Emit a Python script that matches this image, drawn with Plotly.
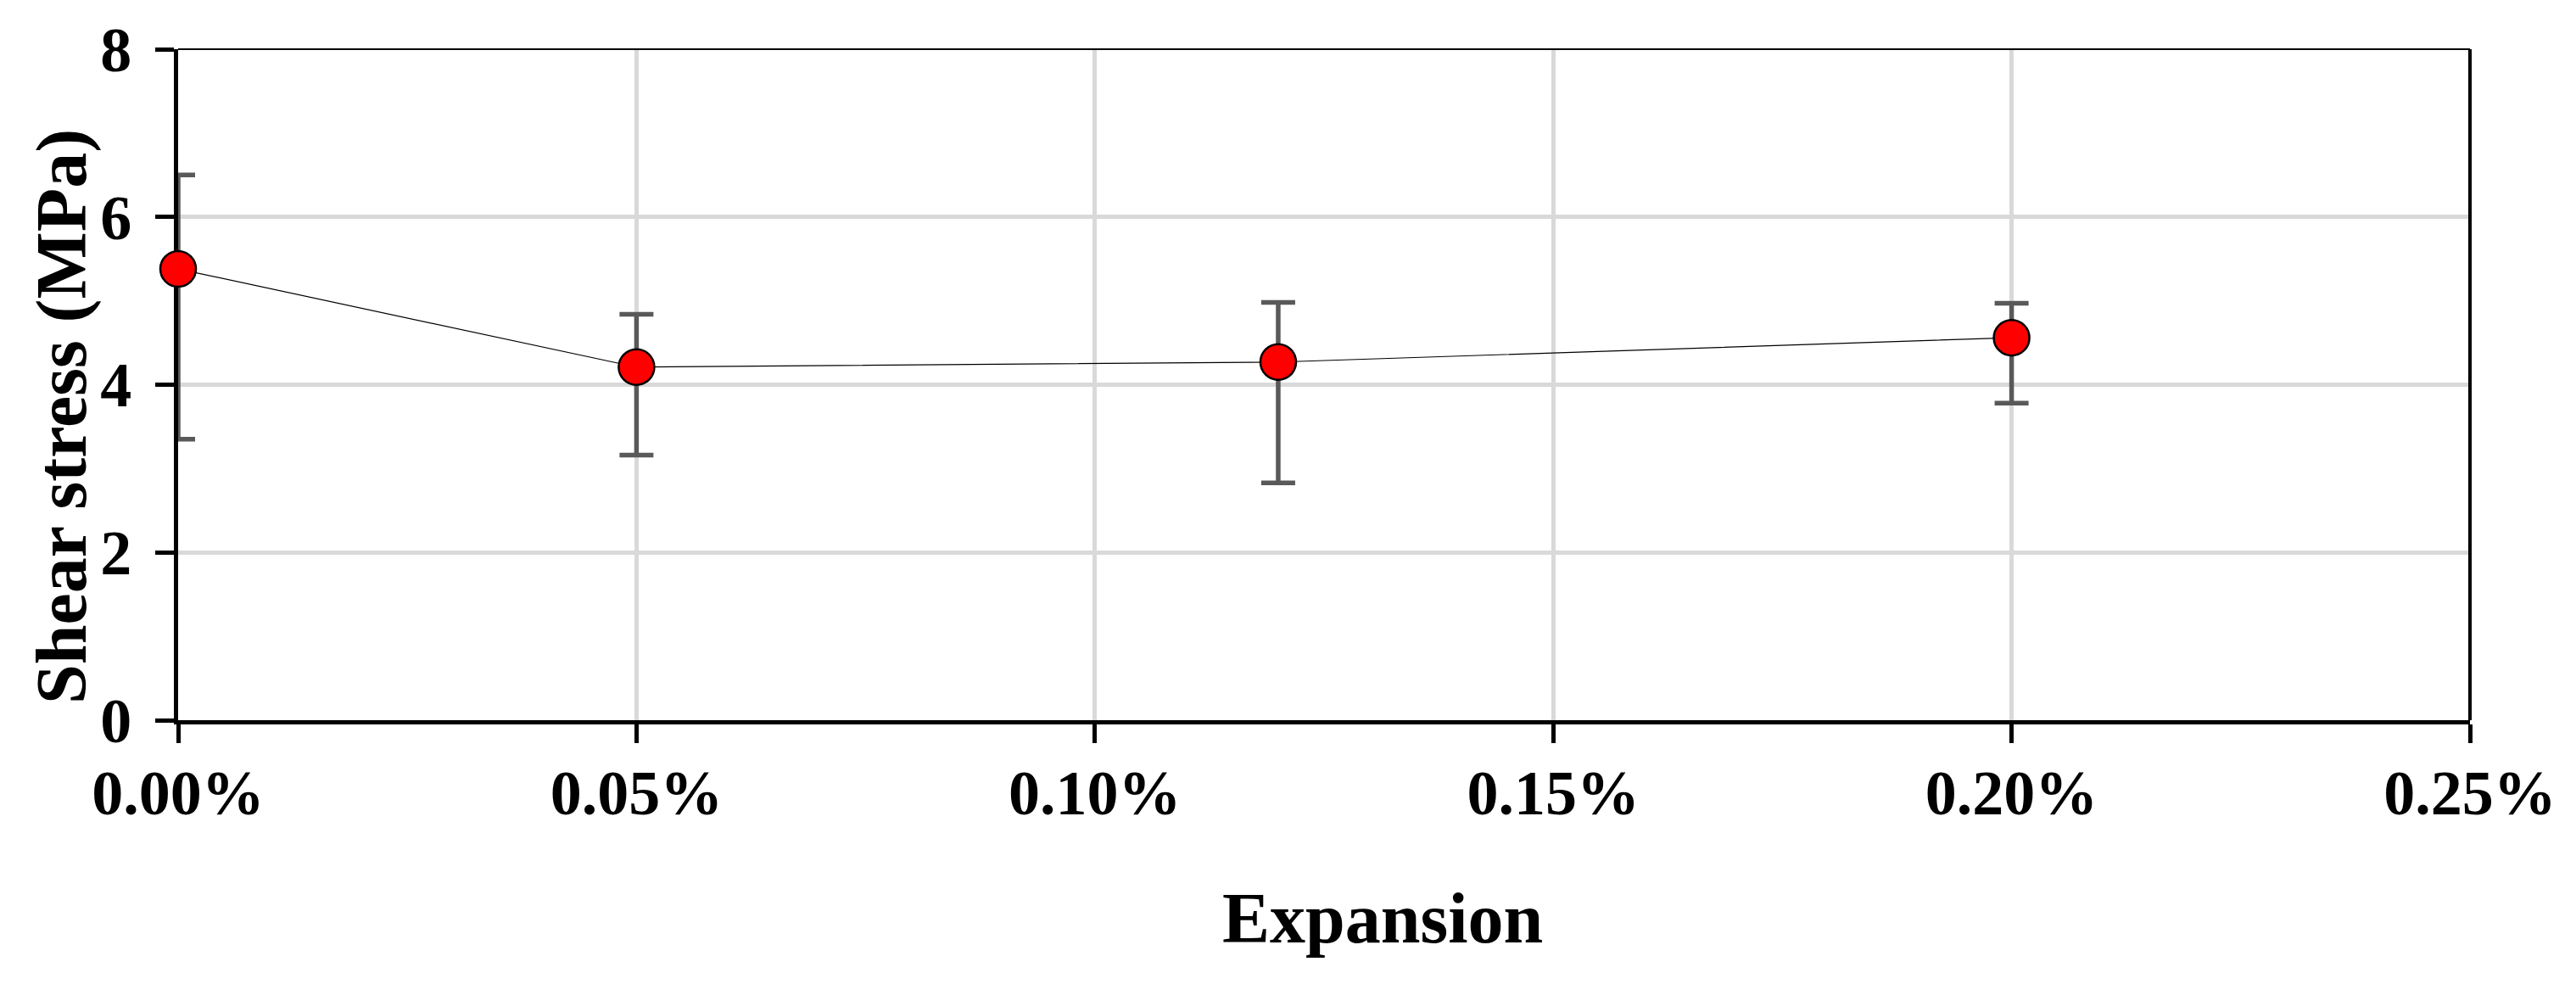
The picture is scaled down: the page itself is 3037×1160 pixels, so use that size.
import plotly.graph_objects as go

expansion_pct = [0.00, 0.05, 0.12, 0.20]      # percent
shear_stress = [5.38, 4.21, 4.27, 4.56]       # MPa
err_plus = [1.12, 0.63, 0.71, 0.41]
err_minus = [2.03, 1.05, 1.44, 0.78]

x_ticks_pct = [0.00, 0.05, 0.10, 0.15, 0.20, 0.25]
y_ticks = [0, 2, 4, 6, 8]

expansion = [v / 100 for v in expansion_pct]
x_ticks = [v / 100 for v in x_ticks_pct]

FONT = "Liberation Serif, Times New Roman, serif"

# page body has an 8px margin, so the figure is drawn 8px in from the window edge
W, H = 3021, 1144
L, T = 202, 50
PW, PH = 2702, 791
R, B = W - L - PW, H - T - PH

fig = go.Figure()

# error bars (clipped to plot area, like the reference)
fig.add_trace(go.Scatter(
    x=expansion, y=shear_stress, mode="markers",
    marker=dict(size=1, color="rgba(0,0,0,0)"),
    error_y=dict(type="data", symmetric=False, array=err_plus, arrayminus=err_minus,
                 color="#595959", thickness=5.5, width=20),
    cliponaxis=True, showlegend=False, hoverinfo="skip",
))

# line + markers
fig.add_trace(go.Scatter(
    x=expansion, y=shear_stress, mode="lines+markers",
    line=dict(color="black", width=1.2),
    marker=dict(size=42, color="#ff0000", line=dict(color="black", width=2.5)),
    cliponaxis=False, showlegend=False,
))

fig.update_layout(
    width=W, height=H,
    margin=dict(l=L, r=R, t=T, b=B, autoexpand=False),
    plot_bgcolor="white", paper_bgcolor="white",
    font=dict(family=FONT, color="black"),
    xaxis=dict(
        range=[0, 0.0025], tickvals=x_ticks, tickformat=".2%",
        showgrid=True, gridcolor="#d9d9d9", gridwidth=5,
        showline=True, linecolor="black", linewidth=5,
        ticks="outside", ticklen=22, tickwidth=5, tickcolor="black",
        tickfont=dict(family=FONT, size=74, weight="bold"),
        ticklabelstandoff=-5,
        zeroline=False, layer="below traces",
    ),
    yaxis=dict(
        range=[0, 8], tickvals=y_ticks,
        showgrid=True, gridcolor="#d9d9d9", gridwidth=5,
        showline=True, linecolor="black", linewidth=5,
        ticks="outside", ticklen=22, tickwidth=5, tickcolor="black",
        tickfont=dict(family=FONT, size=74, weight="bold"),
        ticklabelstandoff=13,
        zeroline=False, layer="below traces",
    ),
    shapes=[
        dict(type="line", xref="paper", yref="paper", x0=0, x1=1, y0=1, y1=1,
             line=dict(color="black", width=2)),
        dict(type="line", xref="paper", yref="paper", x0=1, x1=1, y0=0, y1=1,
             line=dict(color="black", width=4)),
    ],
    annotations=[
        dict(text="Expansion", xref="paper", yref="paper", x=(1629 - 209) / PW, y=-(1082 - 849) / PH,
             showarrow=False, xanchor="center", yanchor="middle",
             font=dict(family=FONT, size=84, weight="bold")),
        dict(text="Shear stress (MPa)", xref="paper", yref="paper", x=-(209 - 72) / PW, y=(849 - 491) / PH,
             showarrow=False, xanchor="center", yanchor="middle", textangle=-90,
             font=dict(family=FONT, size=84, weight="bold")),
    ],
)

fig.write_html("out.html")
